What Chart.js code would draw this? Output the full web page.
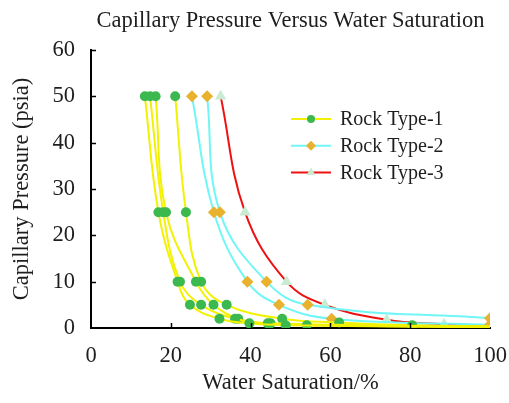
<!DOCTYPE html>
<html>
<head>
<meta charset="utf-8">
<script src="https://cdn.jsdelivr.net/npm/chart.js@4/dist/chart.umd.min.js"></script>
<style>
html,body{margin:0;padding:0;background:#fff;}
#wrap{width:509px;height:403px;}
</style>
</head>
<body>
<div id="wrap"><canvas id="c" width="509" height="403"></canvas></div>
<script>
// ---- data ----
const xTicks = [0, 20, 40, 60, 80, 100];
const yTicks = [0, 10, 20, 30, 40, 50, 60];

// Rock Type-1 (four curves)
const rt1aX = [13.5, 16.9, 21.7, 24.8, 32.2, 39.7, 48.8, 100];
const rt1aY = [50, 25, 10, 5, 2, 1, 0.6, 0.15];
const rt1bX = [14.8, 18.1, 22.3, 27.6, 36.1, 44.3, 54.1, 100];
const rt1bY = [50, 25, 10, 5, 2, 1, 0.6, 0.2];
const rt1cX = [16.2, 18.8, 26.3, 30.7, 36.9, 45.0, 100];
const rt1cY = [50, 25, 10, 5, 2, 1, 0.3];
const rt1dX = [21.1, 23.8, 27.6, 34.0, 47.9, 62.2, 80.5, 100];
const rt1dY = [50, 25, 10, 5, 2, 1.2, 0.6, 0.4];

// Rock Type-2 (two curves)
const rt2aX = [25.3, 30.8, 39.2, 47.1, 60.3, 100];
const rt2aY = [50, 25, 10, 5, 2, 0.7];
const rt2bX = [29.1, 32.3, 44.0, 54.3, 100];
const rt2bY = [50, 25, 10, 5, 2.1];

// Rock Type-3 (one curve)
const rt3X = [32.5, 38.6, 49.0, 58.6, 74.1, 88.5, 100];
const rt3Y = [50, 25, 10, 5, 1.8, 0.8, 0.2];

const seriesNames = ['Rock Type-1', 'Rock Type-2', 'Rock Type-3'];

// ---- styles ----
const FONT = "'Liberation Serif','Times New Roman',serif";
const FS = 22.5;
const TXT = '#1e1e1e';
const YEL = '#f2f200', CYA = '#70f6f6', RED = '#ee1111';
const GRN = '#3cb94e', ORG = '#e8b12e', MINT = '#c9ebd2';

function pts(xs, ys){ return xs.map((x,i)=>({x:x, y:ys[i]})); }

function ds(label, xs, ys, lineColor, markColor, style, r){
  return {
    label: label,
    data: pts(xs, ys),
    borderColor: lineColor,
    borderWidth: 2,
    backgroundColor: markColor,
    pointBackgroundColor: markColor,
    pointBorderColor: markColor,
    pointBorderWidth: 0,
    pointStyle: style,
    pointRadius: c => (c.raw && c.raw.x === 100 && style === 'circle') ? 0 : r,
    pointHoverRadius: r,
    showLine: true,
    fill: false,
    tension: 0.4
  };
}

const datasets = [
  ds(seriesNames[0], rt1aX, rt1aY, YEL, GRN, 'circle', 5),
  ds(seriesNames[0], rt1bX, rt1bY, YEL, GRN, 'circle', 5),
  ds(seriesNames[0], rt1cX, rt1cY, YEL, GRN, 'circle', 5),
  ds(seriesNames[0], rt1dX, rt1dY, YEL, GRN, 'circle', 5),
  ds(seriesNames[1], rt2aX, rt2aY, CYA, ORG, 'rectRot', 6),
  ds(seriesNames[1], rt2bX, rt2bY, CYA, ORG, 'rectRot', 6),
  ds(seriesNames[2], rt3X, rt3Y, RED, MINT, 'triangle', 6.5)
];

const legendItems = [
  {text: seriesNames[0], line: YEL, mark: GRN, style: 'circle', r: 4},
  {text: seriesNames[1], line: CYA, mark: ORG, style: 'rectRot', r: 5},
  {text: seriesNames[2], line: RED, mark: MINT, style: 'triangle', r: 5}
];

const decor = {
  id: 'decor',
  afterDatasetsDraw(chart){
    const ctx = chart.ctx, a = chart.chartArea;
    const xs = chart.scales.x, ys = chart.scales.y;
    ctx.save();
    // inward tick marks
    ctx.strokeStyle = '#000';
    ctx.lineWidth = 1.5;
    xTicks.forEach(v => {
      if (v === 0 || v === 100) return;
      const px = Math.round(xs.getPixelForValue(v)) + 0.5;
      ctx.beginPath(); ctx.moveTo(px, a.bottom); ctx.lineTo(px, a.bottom - 5); ctx.stroke();
    });
    yTicks.forEach(v => {
      if (v === 0) return;
      const py = Math.round(ys.getPixelForValue(v)) + 0.5;
      ctx.beginPath(); ctx.moveTo(a.left, py); ctx.lineTo(a.left + 5, py); ctx.stroke();
    });
    // title
    ctx.fillStyle = TXT;
    ctx.font = FS + 'px ' + FONT;
    ctx.textAlign = 'center';
    ctx.textBaseline = 'middle';
    ctx.fillText('Capillary Pressure Versus Water Saturation', (a.left + a.right) / 2, 21);
    // legend
    ctx.font = '20px ' + FONT;
    const lx0 = 291, lx1 = 331, tx = 340, y0 = 119, dy = 26.7;
    legendItems.forEach((it, i) => {
      const y = y0 + i * dy;
      ctx.strokeStyle = it.line; ctx.lineWidth = 2;
      ctx.beginPath(); ctx.moveTo(lx0, y); ctx.lineTo(lx1, y); ctx.stroke();
      ctx.fillStyle = it.mark;
      Chart.helpers.drawPoint(ctx, {pointStyle: it.style, radius: it.r, borderWidth: 0, rotation: 0}, (lx0 + lx1) / 2, y);
      ctx.fillStyle = TXT;
      ctx.textAlign = 'left';
      ctx.fillText(it.text, tx, y + 1);
    });
    ctx.restore();
  }
};

new Chart(document.getElementById('c'), {
  type: 'scatter',
  data: { datasets: datasets },
  options: {
    responsive: false,
    animation: false,
    devicePixelRatio: 1,
    layout: { padding: { top: 50, right: 19, left: 0, bottom: 0 } },
    plugins: { legend: { display: false }, title: { display: false }, tooltip: { enabled: false } },
    scales: {
      x: {
        type: 'linear', min: 0, max: 100,
        afterFit: s => { s.height = 75; s.paddingLeft = 0; s.paddingRight = 0; },
        afterBuildTicks: s => { s.ticks = xTicks.map(v => ({value: v})); },
        ticks: { padding: 15, color: TXT, font: { family: FONT, size: FS }, maxRotation: 0 },
        grid: { display: true, drawOnChartArea: false, drawTicks: false },
        border: { display: true, color: '#000', width: 2 },
        title: { display: true, text: 'Water Saturation/%', color: TXT, font: { family: FONT, size: FS }, padding: { top: 0, bottom: 6.5 } }
      },
      y: {
        type: 'linear', min: 0, max: 60,
        afterFit: s => { s.width = 91; s.paddingTop = 0; s.paddingBottom = 0; },
        afterBuildTicks: s => { s.ticks = yTicks.map(v => ({value: v})); },
        ticks: { padding: 16, color: TXT, font: { family: FONT, size: FS } },
        grid: { display: true, drawOnChartArea: false, drawTicks: false },
        border: { display: true, color: '#000', width: 2 },
        title: { display: true, text: 'Capillary Pressure (psia)', color: TXT, font: { family: FONT, size: FS }, padding: { top: 8.5, bottom: 0 } }
      }
    }
  },
  plugins: [decor]
});
</script>
</body>
</html>
